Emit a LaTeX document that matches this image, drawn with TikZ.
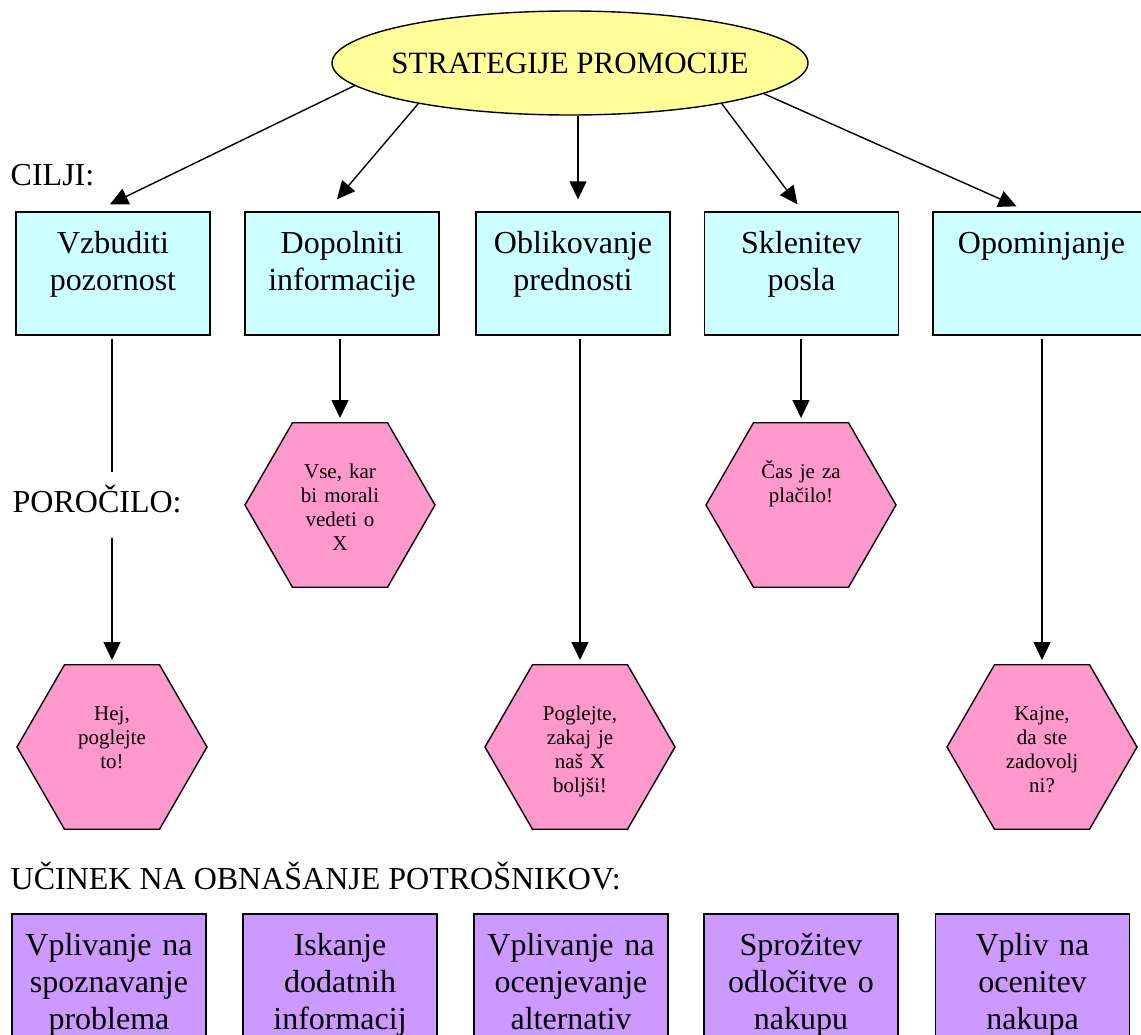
\documentclass[tikz,border=0pt]{standalone}
\usepackage{fontspec}
\setmainfont{Liberation Serif}
\usetikzlibrary{shapes.geometric,arrows.meta}
\definecolor{stratcol}{HTML}{FFFF99}
\definecolor{goalcol}{HTML}{CCFFFF}
\definecolor{msgcol}{HTML}{FF99CC}
\definecolor{effectcol}{HTML}{CC99FF}

\begin{document}
\begin{tikzpicture}[x=1pt, y=-1pt, line width=1.4pt]
\tikzstyle{strat} = [draw,ellipse,fill=stratcol,minimum width=476pt,minimum height=104pt,inner xsep=-12pt,inner ysep=0pt,font=\fontsize{31}{35}\selectfont]
\tikzstyle{goal} = [draw,rectangle,fill=goalcol,minimum width=194pt,inner sep=0pt,text width=190pt,align=center,text height=41pt,text depth=82pt,font=\fontsize{32}{37}\selectfont]
\tikzstyle{effect} = [goal,fill=effectcol]
\tikzstyle{msg} = [draw,regular polygon,regular polygon sides=6,fill=msgcol,minimum size=190pt,inner sep=0pt,text width=90pt,align=center,text height=15pt,text depth=69pt,font=\fontsize{21}{24}\selectfont]
\tikzstyle{heading} = [anchor=base west,inner sep=0pt,font=\fontsize{32}{37}\selectfont]
\tikzstyle{connector} = [-{Triangle[length=18pt,width=17pt]},line width=1.4pt]

\useasboundingbox (0,0) rectangle (1141,1034);

\node[strat] (sp) at (570,63) {STRATEGIJE PROMOCIJE};

% cilji
\node[goal] (vz) at (113,273.5) {Vzbuditi\\ pozornost};
\node[goal] (di) at (342,273.5) {Dopolniti\\ informacije};
\node[goal] (ob) at (573,273.5) {Oblikovanje\\ prednosti};
\node[goal] (sk) at (801.5,273.5) {Sklenitev\\ posla};
\node[goal,minimum width=217pt] (op) at (1041.5,273.5) {Opominjanje};

% porocila
\node[msg] (hj) at (112,747) {Hej,\\ poglejte\\ to!};
\node[msg] (vs) at (340,505) {Vse, kar\\ bi morali\\ vedeti o\\ X};
\node[msg] (pg) at (580,747) {Poglejte,\\ zakaj je\\ naš X\\ boljši!};
\node[msg] (cs) at (801,505) {Čas je za\\ plačilo!};
\node[msg] (kj) at (1042,747) {Kajne,\\ da ste\\ zadovolj\\ ni?};

% ucinek
\node[effect] (sz) at (109,975.5) {Vplivanje na\\ spoznavanje\\ problema};
\node[effect] (id) at (340,975.5) {Iskanje\\ dodatnih\\ informacij};
\node[effect] (oc) at (571,975.5) {Vplivanje na\\ ocenjevanje\\ alternativ};
\node[effect] (od) at (801,975.5) {Sprožitev\\ odločitve o\\ nakupu};
\node[effect] (ns) at (1032.5,975.5) {Vpliv na\\ ocenitev\\ nakupa};

\node[heading] (cilji) at (10,185) {CILJI:};
\node[heading] (ucinek) at (10,889) {UČINEK NA OBNAŠANJE POTROŠNIKOV:};

\draw [connector] (sp.186) -- ([shift={(-3,-7)}]vz.north);
\draw [connector] (sp.195) -- ([shift={(-5,-12)}]di.north);
\coordinate (obtop) at ([shift={(5,-12)}]ob.north);
\draw [connector] (obtop |- sp.south) -- (obtop);
\draw [connector] (sp.345) -- ([shift={(-4,-7)}]sk.north);
\draw [connector] (sp.351) -- ([shift={(-25,-5)}]op.north);

\draw [connector,shorten <=3pt,shorten >=4pt] (hj.north |- vz.south) -- (hj.north);
\draw [connector,shorten <=3pt,shorten >=4pt] (vs.north |- di.south) -- (vs.north);
\draw [connector,shorten <=3pt,shorten >=4pt] (pg.north |- ob.south) -- (pg.north);
\draw [connector,shorten <=3pt,shorten >=4pt] (cs.north |- sk.south) -- (cs.north);
\draw [connector,shorten <=3pt,shorten >=4pt] (kj.north |- op.south) -- (kj.north);

\node[heading,fill=white,text height=22pt,text depth=8pt,inner ysep=18pt] (porocilo) at (12,512) {POROČILO:};
\end{tikzpicture}
\end{document}
